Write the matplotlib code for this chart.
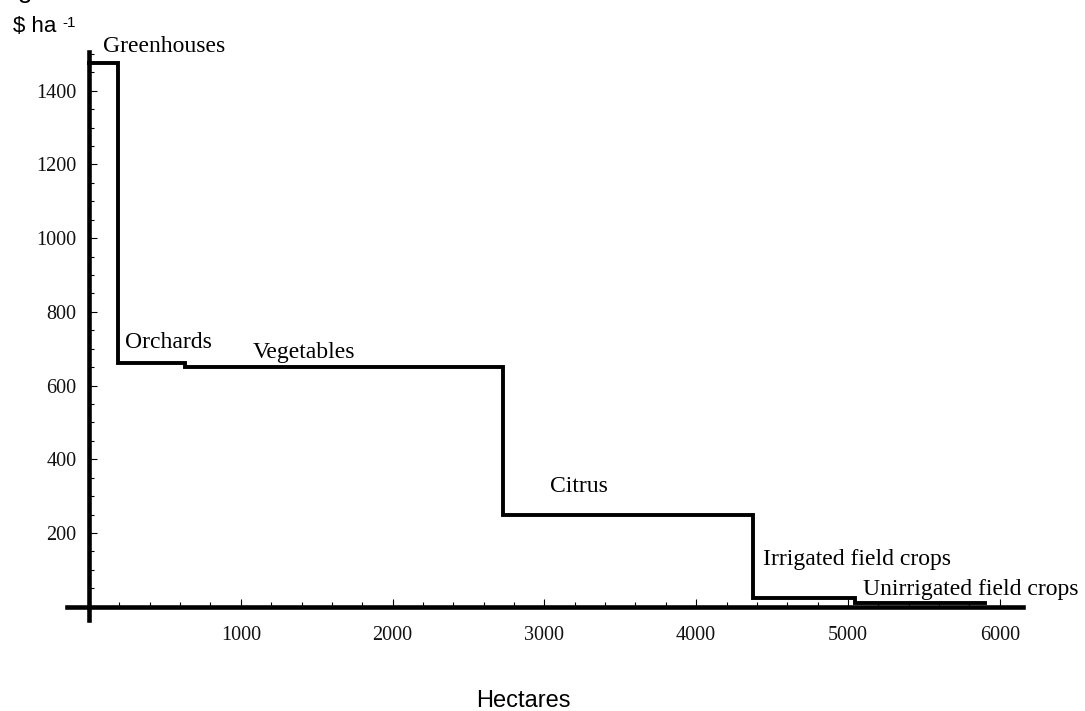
import numpy as np
import matplotlib.pyplot as plt
from matplotlib.ticker import MultipleLocator, FixedLocator

# Figure dimension (width, height) in inches, 100 dpi -> 1085x711 px
fw, fh = 10.85, 7.11
serif = 'Liberation Serif'
sans = 'Liberation Sans'

# Step boundaries (hectares) and value per hectare for each crop group
hectare_edges = [0, 190, 630, 2725, 4375, 5045, 5900]
value_per_ha = [1475, 660, 650, 250, 25, 10]
crops = ['Greenhouses', 'Orchards', 'Vegetables', 'Citrus',
         'Irrigated field crops', 'Unirrigated field crops']
# label anchors (data coords)
label_x = [92, 237, 1080, 3037, 4440, 5099]
label_y = [1505, 702, 675, 311, 113, 31]

fig = plt.figure(figsize=(fw, fh), dpi=100)
ax = fig.add_axes([67/1085, 1-620/711, (1023-67)/1085, (620-52)/711])
ax.set_xlim(-145, 6153)
ax.set_ylim(-36, 1505)

xs = np.array(hectare_edges)
ys = np.array(value_per_ha + [value_per_ha[-1]])
ax.plot(xs, ys, drawstyle='steps-post', color='black', lw=2.8,
        solid_joinstyle='miter', zorder=3)

for name, lx, ly in zip(crops, label_x, label_y):
    ax.text(lx, ly, name, fontsize=17, family=serif, ha='left', va='baseline')

# Axes through the origin
for side in ['top', 'right']:
    ax.spines[side].set_visible(False)
ax.spines['left'].set_position(('data', 0))
ax.spines['bottom'].set_position(('data', 0))
ax.spines['left'].set_linewidth(3.3)
ax.spines['bottom'].set_linewidth(3.3)

ax.xaxis.set_major_locator(FixedLocator(range(1000, 6001, 1000)))
ax.xaxis.set_minor_locator(MultipleLocator(200))
ax.yaxis.set_major_locator(FixedLocator(range(200, 1401, 200)))
ax.yaxis.set_minor_locator(MultipleLocator(50))
ax.tick_params(which='both', direction='in', width=0.8, color='black')
ax.tick_params(which='major', length=6)
ax.tick_params(which='minor', length=3.5)
ax.tick_params(axis='x', which='major', pad=14)
ax.tick_params(axis='y', which='major', pad=9)
for lbl in ax.get_xticklabels() + ax.get_yticklabels():
    lbl.set_family(serif)
    lbl.set_fontsize(14.5)
    lbl.set_color('#111111')

# Axis titles and cut-off heading
fig.text(13/1085, 1-32/711, r'\$ ha', family=sans, fontsize=16, va='baseline')
fig.text(62/1085, 1-27/711, '-1', family=sans, fontsize=11, va='baseline')
fig.text(523/1085, 1-707/711, 'Hectares', family=sans, fontsize=17,
         ha='center', va='baseline')
fig.text(-3/1085, 1.0 + 2/711, 'Fig', family=sans, fontsize=19, va='baseline')

plt.savefig('out.png', dpi=100)
